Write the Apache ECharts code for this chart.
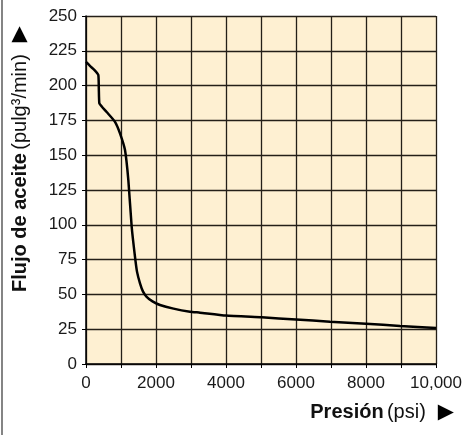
<!DOCTYPE html>
<html>
<head>
<meta charset="utf-8">
<script src="https://cdn.jsdelivr.net/npm/echarts@6/dist/echarts.min.js"></script>
<style>
    html, body { margin: 0; padding: 0; background: #fff; }
    #chart { width: 471px; height: 435px; }
</style>
</head>
<body>
<div id="chart"></div>
<script>
    // presión (psi) y flujo de aceite (pulg3/min)
    const pressure = [0, 120, 250, 352, 366, 381, 450, 590, 829, 971, 1114, 1210, 1305, 1400, 1460, 1543, 1630, 1733, 1900, 2114, 2500, 2970, 3257, 4000, 5020, 6000, 6971, 8000, 8971, 10000];
    const flow = [217, 214, 211, 207.6, 198, 187.3, 185, 181, 174, 165.7, 153.7, 132, 98.6, 77, 66, 58, 52, 48.3, 45, 42.4, 39.8, 37.6, 36.9, 34.8, 33.5, 32, 30.4, 29, 27.3, 25.8];
    const xTicks = [0, 2000, 4000, 6000, 8000, 10000];
    const xTickText = ['0', '2000', '4000', '6000', '8000', '10,000'];

    const font = '"Liberation Sans", Arial, Helvetica, sans-serif';
    const chart = echarts.init(document.getElementById('chart'));

    const titleRich = {
        b: { fontFamily: font, fontSize: 20, fontWeight: 'bold', fill: '#111' },
        n: { fontFamily: font, fontSize: 20, fill: '#111' },
        t: { fontFamily: '"DejaVu Sans", sans-serif', fontSize: 21, fill: '#000', padding: [0, 0, 0, 12] }
    };

    chart.setOption({
        animation: false,
        grid: {
            left: 86,
            right: 35,
            top: 16,
            bottom: 71,
            show: true,
            backgroundColor: '#fef0d2',
            borderWidth: 0
        },
        xAxis: {
            type: 'value',
            min: 0,
            max: 10000,
            interval: 1000,
            axisLine: { show: true, lineStyle: { color: '#000', width: 1.5 } },
            axisTick: { show: true, length: 4, lineStyle: { color: '#000' } },
            splitLine: { show: true, lineStyle: { color: '#241f18', width: 1.3 } },
            axisLabel: {
                margin: 11,
                color: '#1a1a1a',
                fontFamily: font,
                fontSize: 17,
                formatter: function (v) {
                    const i = xTicks.indexOf(v);
                    return i >= 0 ? xTickText[i] : '';
                }
            }
        },
        yAxis: {
            type: 'value',
            min: 0,
            max: 250,
            interval: 25,
            axisLine: { show: true, lineStyle: { color: '#000', width: 1.5 } },
            axisTick: { show: true, length: 4, lineStyle: { color: '#000' } },
            splitLine: { show: true, lineStyle: { color: '#241f18', width: 1.3 } },
            axisLabel: {
                margin: 9,
                color: '#1a1a1a',
                fontFamily: font,
                fontSize: 17
            }
        },
        series: [
            {
                type: 'line',
                data: pressure.map((p, i) => [p, flow[i]]),
                showSymbol: false,
                smooth: 0.15,
                lineStyle: { color: '#000', width: 2.5 }
            }
        ],
        graphic: [
            {
                type: 'line',
                shape: { x1: 2, y1: 0, x2: 2, y2: 435 },
                style: { stroke: '#333', lineWidth: 1.2 }
            },
            {
                type: 'text',
                x: 20,
                y: 159,
                rotation: Math.PI / 2,
                style: {
                    text: '{b|Flujo de aceite} {n|(pulg³/min)}{t|▶}',
                    align: 'center',
                    verticalAlign: 'middle',
                    rich: titleRich
                }
            },
            {
                type: 'text',
                right: 17,
                top: 402,
                style: {
                    text: '{b|Presión} {n|(psi)}{t|▶}',
                    rich: titleRich
                }
            }
        ]
    });
</script>
</body>
</html>
